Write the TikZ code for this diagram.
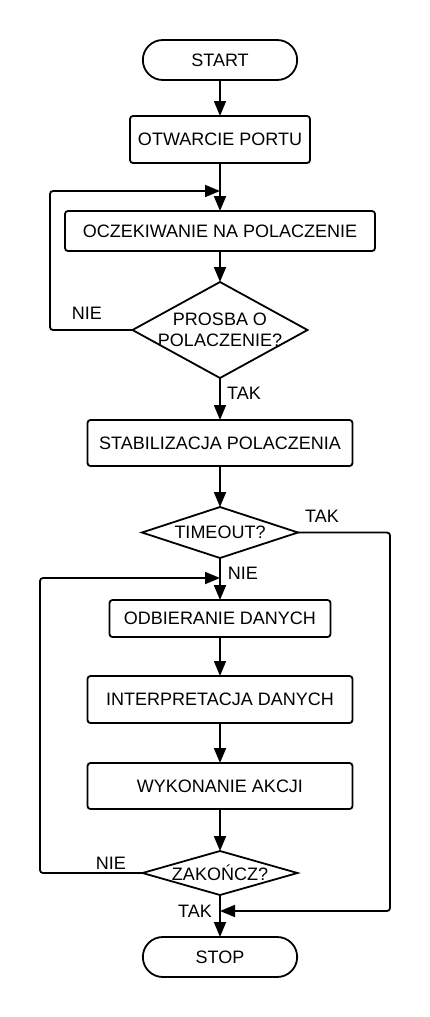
\documentclass[tikz,border=0pt]{standalone}
\usepackage{fontspec}
\setmainfont{Liberation Sans}
\usetikzlibrary{arrows.meta}
\usetikzlibrary{positioning}
\usetikzlibrary{shapes.misc}
\usetikzlibrary{shapes.geometric}
\tikzset {
  flow path/.style = {
    draw = black,
    line width = 1.8pt,
    rounded corners = 3pt
  },
  % path style with an arrow at its end
  arr/.style = {
    flow path,
    -{Triangle[length=15pt,width=12pt]}
  },
  % path style with no arrows
  narr/.style = {
    flow path
  }
}
\tikzset {
  flow node/.style = {
    draw = black,
    line width = 1.8pt,
    outer sep = 0pt,
    font = \fontsize{18}{20.5}\selectfont
  },
  % start and stop
  term/.style = {
    flow node,
    rounded rectangle,
    minimum width = 161pt,
    minimum height = 40pt
  },
  % process step
  proc/.style = {
    flow node,
    rectangle,
    rounded corners = 3pt,
    minimum height = 46pt
  },
  % yes/no question
  decision/.style = {
    flow node,
    diamond,
    align = center,
    inner sep = -3pt,
    aspect = 3
  },
  % TAK / NIE
  answer/.style = {
    font = \fontsize{18}{20.5}\selectfont,
    inner sep = 0pt
  },
  node distance = 40pt
}

\begin{document}
\begin{tikzpicture}[x=1pt, y=-1pt]
    \useasboundingbox (0,0) rectangle (430,1017);

    \node[term] (start) at (220,60) {START};
    \node[proc, minimum width=180pt, minimum height=47pt] (otwarcie) [below=36pt of start] {OTWARCIE PORTU};
    \node[proc, minimum width=310pt, minimum height=40pt] (oczekiwanie) [below=48pt of otwarcie] {OCZEKIWANIE NA POLACZENIE};
    \node[decision, aspect=1.82, minimum width=175pt, minimum height=96pt] (prosba) [below=31pt of oczekiwanie] {PROSBA O\\POLACZENIE?};
    \node[proc, minimum width=265pt] (stabilizacja) [below=42pt of prosba] {STABILIZACJA POLACZENIA};
    \node[decision, minimum width=156pt, minimum height=51pt] (timeout) [below=41pt of stabilizacja] {TIMEOUT?};
    \node[proc, minimum width=221pt, minimum height=37pt] (odbieranie) [below=42pt of timeout] {ODBIERANIE DANYCH};
    \node[proc, minimum width=265pt, minimum height=47pt] (interpretacja) [below=39pt of odbieranie] {INTERPRETACJA DANYCH};
    \node[proc, minimum width=265pt] (wykonanie) [below=40pt of interpretacja] {WYKONANIE AKCJI};
    \node[decision, aspect=3.5, minimum width=155pt, minimum height=44pt] (zakoncz) [below=42pt of wykonanie] {ZAKOŃCZ?};
    \node[term] (stop) [below=42pt of zakoncz] {STOP};

    % points where the loops come back in
    \coordinate[below=28pt of otwarcie.south] (join-a);
    \coordinate[above=22pt of odbieranie.north] (join-b);
    \coordinate[below=16pt of zakoncz.south] (join-c);
    \coordinate (rail-a) at (50,191);
    \coordinate (rail-b) at (40,578);
    \coordinate (rail-c) at (390,911);

    \node[answer] (nie-a) at (87,313) {NIE};
    \node[answer] (tak-a) at (244,393) {TAK};
    \node[answer] (tak-b) at (322,516) {TAK};
    \node[answer] (nie-b) at (243,573) {NIE};
    \node[answer] (nie-c) at (111,863) {NIE};
    \node[answer] (tak-c) at (195,911) {TAK};

    \draw[arr] (start) -- (otwarcie);
    \draw[arr] (otwarcie) -- (oczekiwanie);
    \draw[arr] (oczekiwanie) -- (prosba);
    \draw[arr] (prosba) -- (stabilizacja);
    \draw[arr] (stabilizacja) -- (timeout);
    \draw[arr] (timeout) -- (odbieranie);
    \draw[arr] (odbieranie) -- (interpretacja);
    \draw[arr] (interpretacja) -- (wykonanie);
    \draw[arr] (wykonanie) -- (zakoncz);
    \draw[arr] (zakoncz) -- (stop);

    \draw[arr] (prosba.west) -| (rail-a) -- (join-a);
    \draw[arr] (zakoncz.west) -| (rail-b) -- (join-b);
    \draw[arr] (timeout.east) -| (rail-c) -- (join-c);
  \end{tikzpicture}
\end{document}
